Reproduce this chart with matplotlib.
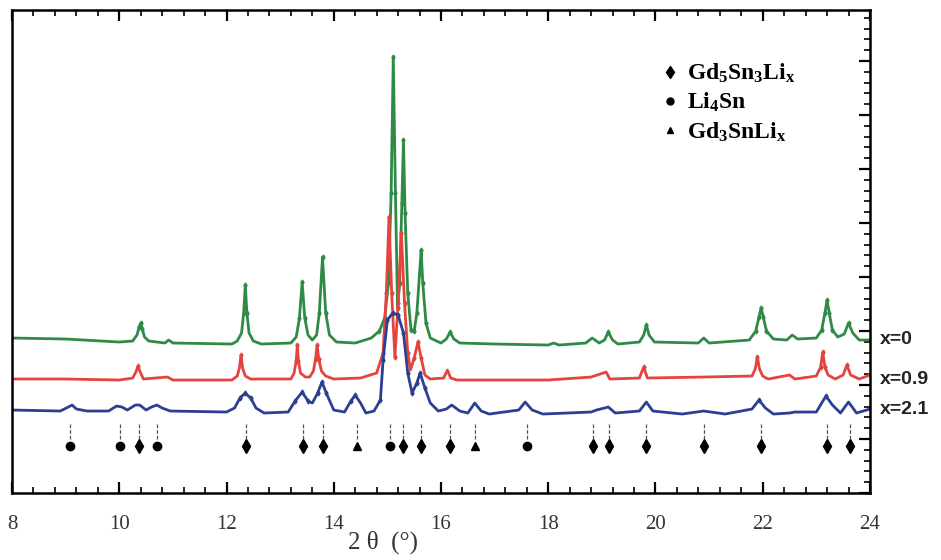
import numpy as np
import matplotlib.pyplot as plt
from matplotlib.lines import Line2D

plt.rcParams['font.family'] = 'Liberation Serif'
plt.rcParams['mathtext.fontset'] = 'custom'
plt.rcParams['mathtext.rm'] = 'Liberation Serif:bold'
plt.rcParams['mathtext.it'] = 'Liberation Serif:bold'

# traced XRD patterns (2 theta in degrees, intensity a.u. incl. stacking offset)
tt_x0 = [8.0, 9.0, 10.0, 10.25, 10.33, 10.37, 10.4, 10.43, 10.47, 10.55,
         10.85, 10.92, 11.0, 12.1, 12.2, 12.28, 12.32, 12.35, 12.38, 12.42,
         12.5, 12.65, 13.2, 13.3, 13.36, 13.41, 13.46, 13.52, 13.6, 13.68,
         13.73, 13.79, 13.85, 13.92, 14.05, 14.4, 14.7, 14.85, 14.95, 15.02,
         15.07, 15.11, 15.15, 15.19, 15.23, 15.27, 15.30, 15.33, 15.38, 15.44,
         15.5, 15.55, 15.60, 15.63, 15.66, 15.72, 15.8, 16.0, 16.1, 16.17,
         16.24, 16.35, 17.0, 18.0, 18.1, 18.2, 18.7, 18.82, 18.95, 19.05,
         19.12, 19.2, 19.3, 19.7, 19.78, 19.83, 19.88, 19.98, 20.8, 20.9,
         21.0, 21.75, 21.87, 21.93, 21.97, 22.01, 22.07, 22.2, 22.45, 22.55,
         22.65, 23.0, 23.1, 23.16, 23.2, 23.24, 23.3, 23.4, 23.52, 23.6,
         23.68, 23.8, 24.0]
int_x0 = [155, 154, 151, 152, 158, 166, 170, 164, 156, 152,
          150, 153, 150, 149, 152, 160, 180, 208, 180, 160,
          152, 149, 150, 156, 175, 211, 175, 158, 153, 158,
          180, 236, 180, 158, 151, 150, 155, 162, 175, 210,
          300, 436, 300, 185, 210, 290, 353, 280, 200, 163,
          162, 180, 220, 243, 210, 170, 155, 150, 154, 161,
          154, 150, 149, 148, 150, 148, 150, 155, 150, 153,
          161, 153, 149, 151, 158, 168, 158, 151, 150, 155,
          150, 153, 162, 176, 185, 176, 162, 154, 153, 158,
          154, 155, 163, 180, 193, 180, 163, 156, 159, 170,
          160, 153, 153]

tt_x09 = [8.0, 9.0, 10.0, 10.25, 10.31, 10.35, 10.39, 10.45, 10.9, 11.0,
          12.1, 12.2, 12.24, 12.27, 12.3, 12.35, 12.45, 13.2, 13.26, 13.3,
          13.32, 13.34, 13.38, 13.47, 13.55, 13.62, 13.66, 13.69, 13.72, 13.77,
          13.85, 14.0, 14.5, 14.8, 14.92, 14.98, 15.03, 15.08, 15.14, 15.2,
          15.26, 15.32, 15.38, 15.43, 15.5, 15.57, 15.63, 15.7, 15.8, 16.05,
          16.12, 16.18, 16.3, 17.0, 18.0, 18.8, 19.08, 19.15, 19.7, 19.78,
          19.85, 20.9, 21.8, 21.86, 21.9, 21.94, 22.0, 22.1, 22.5, 22.6,
          23.0, 23.08, 23.12, 23.16, 23.22, 23.35, 23.5, 23.57, 23.64, 23.8,
          24.0]
int_x09 = [114, 114, 113, 115, 121, 127, 121, 114, 116, 113,
           113, 117, 125, 138, 125, 117, 114, 114, 120, 132,
           148, 132, 120, 116, 116, 122, 134, 148, 134, 122,
           117, 114, 115, 120, 140, 200, 276, 200, 136, 190,
           260, 190, 140, 123, 135, 151, 135, 118, 114, 115,
           123, 115, 113, 113, 113, 116, 121, 114, 115, 126,
           115, 116, 117, 124, 136, 124, 117, 114, 118, 114,
           117, 126, 141, 126, 118, 114, 118, 128, 118, 114,
           118]

tt_x21 = [8.0, 8.9, 9.05, 9.12, 9.2, 9.4, 9.8, 9.95, 10.05, 10.15, 10.3,
          10.38, 10.5, 10.6, 10.7, 10.8, 10.95, 12.0, 12.15, 12.25, 12.35,
          12.45, 12.55, 12.7, 13.15, 13.28, 13.41, 13.52, 13.6, 13.7, 13.78,
          13.86, 14.0, 14.2, 14.32, 14.4, 14.5, 14.6, 14.75, 14.87, 14.92,
          15.0, 15.1, 15.2, 15.3, 15.38, 15.46, 15.55, 15.61, 15.7, 15.8,
          15.95, 16.1, 16.2, 16.35, 16.5, 16.63, 16.75, 16.9, 17.45, 17.57,
          17.7, 17.9, 18.8, 18.9, 19.12, 19.25, 19.7, 19.83, 19.95, 20.5,
          20.9, 21.3, 21.8, 21.93, 22.05, 22.2, 22.5, 22.6, 23.0, 23.1,
          23.18, 23.3, 23.45, 23.6, 23.75, 24.0]
int_x21 = [83, 82, 86, 88, 84, 82, 82, 87, 86, 83, 88,
           88, 83, 86, 88, 85, 82, 81, 85, 95, 100,
           95, 85, 80, 81, 92, 101, 92, 90, 100, 111,
           100, 83, 81, 92, 98, 90, 80, 82, 93, 133,
           173, 180, 178, 160, 120, 100, 110, 120, 105, 90,
           82, 84, 88, 82, 80, 90, 82, 79, 83, 91,
           83, 79, 81, 83, 86, 80, 82, 91, 82, 79,
           82, 79, 84, 93, 85, 79, 80, 81, 81, 90,
           97, 88, 80, 91, 80, 84]

# reflection positions of the phases
pos_gd5sn3 = [10.37, 12.36, 13.43, 13.80, 15.30, 15.63, 16.17, 18.84, 19.14,
              19.83, 20.90, 21.97, 23.20, 23.62]
pos_li4sn = [9.08, 10.01, 10.71, 15.05, 17.60]
pos_gd3sn = [14.44, 16.64]

fig = plt.figure(figsize=(9.41, 5.6), dpi=100)
ax = fig.add_axes([0.0128, 0.1196, 0.9117, 0.8625])

c_green, c_red, c_blue = '#2f8a45', '#e5433d', '#2d3f92'
for tt, inten, col in [(tt_x0, int_x0, c_green), (tt_x09, int_x09, c_red),
                       (tt_x21, int_x21, c_blue)]:
    inten = np.array(inten)
    # data-point symbols only show up on the peaks
    ax.plot(tt, inten, color=col, lw=2, marker='d', ms=2.5,
            markevery=list(inten > inten.min() + 12))

all_pos = pos_gd5sn3 + pos_li4sn + pos_gd3sn
ax.vlines(all_pos, 54, 71, colors='#555555', lw=0.9, linestyles=(0, (3, 1.5)))
ax.plot(pos_gd5sn3, [47] * len(pos_gd5sn3), 'kd', ms=7, ls='none')
ax.plot(pos_li4sn, [47] * len(pos_li4sn), 'ko', ms=6, ls='none')
ax.plot(pos_gd3sn, [47] * len(pos_gd3sn), 'k^', ms=6, ls='none')

for y, lab in zip([154, 114, 84], ['x=0', 'x=0.9', 'x=2.1']):
    ax.text(1.011, y, lab, transform=ax.get_yaxis_transform(),
            family='Liberation Sans', weight='bold', fontsize=14,
            color='#222222', va='center', ha='left', clip_on=False)

handles = [Line2D([], [], color='k', marker='d', ls='none', ms=6),
           Line2D([], [], color='k', marker='o', ls='none', ms=5),
           Line2D([], [], color='k', marker='^', ls='none', ms=5)]
labels = [r'$\mathrm{Gd_5Sn_3Li_x}$', r'$\mathrm{Li_4Sn}$',
          r'$\mathrm{Gd_3SnLi_x}$']
ax.legend(handles, labels, loc='upper left', bbox_to_anchor=(0.745, 0.917),
          frameon=False, fontsize=17, handlelength=0.6, handletextpad=0.4,
          labelspacing=0.25, borderpad=0)

ax.set_xlim(8, 24)
ax.set_ylim(0, 483)
ax.set_xticks(np.arange(8, 25, 2))
ax.set_xticks(np.arange(8, 24.01, 0.4), minor=True)
ax.set_yticks(np.arange(0, 484, 54))
ax.set_yticks(np.arange(0, 484, 10.8), minor=True)
ax.tick_params(which='both', direction='in', top=True, right=True,
               left=False, labelleft=False, labelsize=15,
               labelcolor='#333333', pad=16)
ax.tick_params(which='major', length=8, width=1.6)
ax.tick_params(which='minor', length=4, width=1.2)
for s in ax.spines.values():
    s.set_linewidth(1.8)

ax.set_xlabel('2 θ  (°)', fontsize=18, color='#333333')
ax.xaxis.set_label_coords(0.432, -0.078)

plt.savefig('out.png', dpi=100)
